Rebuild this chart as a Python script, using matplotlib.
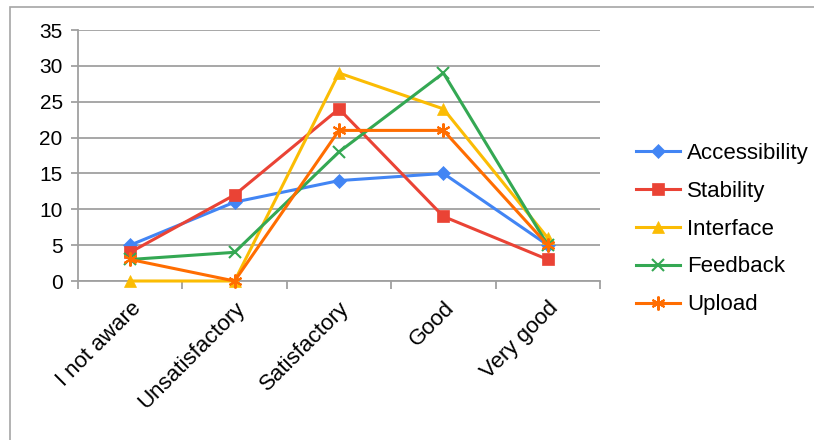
import matplotlib.pyplot as plt
from matplotlib.patches import Rectangle

plt.rcParams['font.family'] = ['Liberation Sans', 'DejaVu Sans']

categories = ['I not aware', 'Unsatisfactory', 'Satisfactory', 'Good', 'Very good']
accessibility = [5, 11, 14, 15, 5]
stability = [4, 12, 24, 9, 3]
interface = [0, 0, 29, 24, 6]
feedback = [3, 4, 18, 29, 5]
upload = [3, 0, 21, 21, 5]

series = [
    ('Accessibility', accessibility, '#4285F4', 'D', 7),
    ('Stability', stability, '#EA4335', 's', 9),
    ('Interface', interface, '#FBBC04', '^', 9),
    ('Feedback', feedback, '#34A853', 'x', 8),
    ('Upload', upload, '#FF6D01', (6, 2, 0), 10),
]

fig = plt.figure(figsize=(8.14, 4.4), dpi=100)
fig.patches.append(Rectangle((10 / 814, -0.01), 1.0, 1 - 7 / 440 + 0.01,
                             transform=fig.transFigure, fill=False,
                             edgecolor='#a6a6a6', linewidth=1.2))
ax = fig.add_axes([78 / 814, 1 - 281 / 440, 522 / 814, 251 / 440])

x = range(len(categories))
for name, vals, color, marker, ms in series:
    thin = marker == 'x' or isinstance(marker, tuple)
    ax.plot(x, vals, color=color, linewidth=2.2, marker=marker, markersize=ms,
            markeredgewidth=1.5 if thin else 0.5,
            markeredgecolor=color, label=name, clip_on=False, zorder=3)

ax.set_xlim(-0.5, 4.5)
ax.set_ylim(0, 35)
ax.set_yticks(range(0, 36, 5))
ax.yaxis.grid(True, color='#a0a0a0', linewidth=1.3)
ax.set_axisbelow(True)

ax.set_xticks(list(x))
ax.set_xticklabels(categories, rotation=45, ha='right', rotation_mode='anchor')
ax.tick_params(axis='x', length=0, pad=12, labelsize=16)
ax.set_xticks([i - 0.5 for i in range(len(categories) + 1)], minor=True)
ax.tick_params(axis='x', which='minor', length=6, color='#a0a0a0', width=1.3)
ax.tick_params(axis='y', length=5, color='#a0a0a0', width=1.3, labelsize=15, pad=6)

for side in ('top', 'right'):
    ax.spines[side].set_visible(False)
for side in ('left', 'bottom'):
    ax.spines[side].set_color('#a0a0a0')
    ax.spines[side].set_linewidth(1.3)

ax.legend(loc='center left', bbox_to_anchor=(1 + 36 / 522, 52 / 251), frameon=False,
          fontsize=16, handlelength=2.0, labelspacing=0.76, handletextpad=0.3,
          borderpad=0, borderaxespad=0)

fig.savefig('out.png', dpi=100)
